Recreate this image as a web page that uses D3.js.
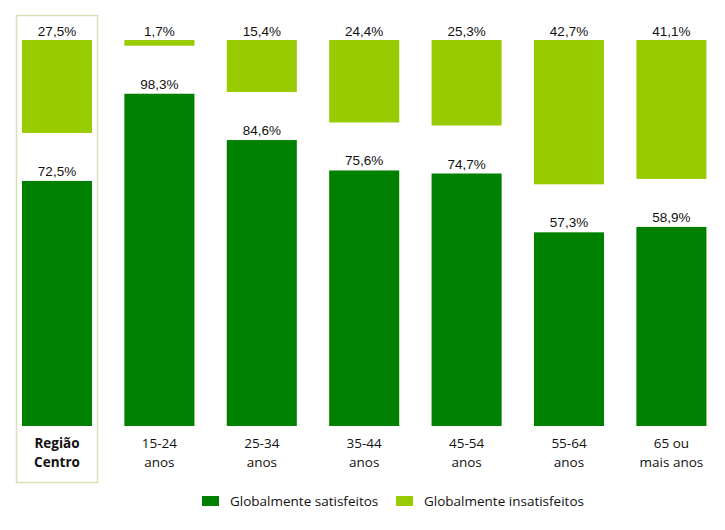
<!DOCTYPE html>
<html><head><meta charset="utf-8">
<script src="https://cdn.jsdelivr.net/npm/d3@7"></script>
<style>body{margin:0;background:#fff}svg{display:block}</style>
</head><body>
<script>
const categories = [["Região","Centro"],["15-24","anos"],["25-34","anos"],["35-44","anos"],["45-54","anos"],["55-64","anos"],["65 ou","mais anos"]];
const satisfeitos = [72.5, 98.3, 84.6, 75.6, 74.7, 57.3, 58.9];
const insatisfeitos = [27.5, 1.7, 15.4, 24.4, 25.3, 42.7, 41.1];
const seriesNames = ["Globalmente satisfeitos","Globalmente insatisfeitos"];
const colors = ["#008000","#99cc00"];

const W=725,H=530;
const svg=d3.select("body").append("svg").attr("width",W).attr("height",H);
const x=d3.scaleBand().domain(d3.range(categories.length)).range([5.8,722.6]).paddingInner(0.316).paddingOuter(0.158);
const yDark=d3.scaleLinear().domain([0,100]).range([426,88]);
const yLight=d3.scaleLinear().domain([0,100]).range([40,378]);

// highlight box
svg.append("rect").attr("x",16.5).attr("y",15.5).attr("width",81).attr("height",467)
  .attr("fill","none").attr("stroke","#dcdfb4").attr("stroke-width",1.5);

const g=svg.append("g");
g.selectAll("rect.s").data(satisfeitos).join("rect").attr("class","s")
  .attr("x",(d,i)=>x(i)).attr("width",x.bandwidth())
  .attr("y",d=>yDark(d)).attr("height",d=>yDark(0)-yDark(d)).attr("fill",colors[0]);
g.selectAll("rect.i").data(insatisfeitos).join("rect").attr("class","i")
  .attr("x",(d,i)=>x(i)).attr("width",x.bandwidth())
  .attr("y",yLight(0)).attr("height",d=>yLight(d)-yLight(0)).attr("fill",colors[1]);

const fmt=v=>v.toFixed(1).replace(".",",")+"%";
const lblFont="'Liberation Sans', Arial, sans-serif";
g.selectAll("text.s").data(satisfeitos).join("text").attr("class","s")
  .attr("x",(d,i)=>x(i)+x.bandwidth()/2).attr("y",d=>yDark(d)-5)
  .attr("text-anchor","middle").attr("font-family",lblFont).attr("font-size",13.5).attr("fill","#111")
  .text(fmt);
g.selectAll("text.i").data(insatisfeitos).join("text").attr("class","i")
  .attr("x",(d,i)=>x(i)+x.bandwidth()/2).attr("y",yLight(0)-4)
  .attr("text-anchor","middle").attr("font-family",lblFont).attr("font-size",13.5).attr("fill","#111")
  .text(fmt);

// category labels
const catFont="'Open Sans', 'Noto Sans', sans-serif";
const cl=svg.append("g").selectAll("text").data(categories).join("text")
  .attr("x",(d,i)=>x(i)+x.bandwidth()/2).attr("y",448)
  .attr("text-anchor","middle").attr("font-family",catFont).attr("font-size",13.5).attr("fill","#111")
  .attr("font-weight",(d,i)=>i===0?"bold":"normal");
cl.each(function(d){
  const t=d3.select(this);
  d.forEach((line,k)=>t.append("tspan").attr("x",t.attr("x")).attr("dy",k===0?0:19).text(line));
});

// legend
const leg=svg.append("g");
const legX=[202,396];
seriesNames.forEach((n,i)=>{
  leg.append("rect").attr("x",legX[i]).attr("y",496).attr("width",17).attr("height",10).attr("fill",colors[i]);
  leg.append("text").attr("x",legX[i]+28).attr("y",506).attr("font-family",catFont).attr("font-size",13.5)
    .attr("fill","#111").text(n);
});
</script>
</body></html>
